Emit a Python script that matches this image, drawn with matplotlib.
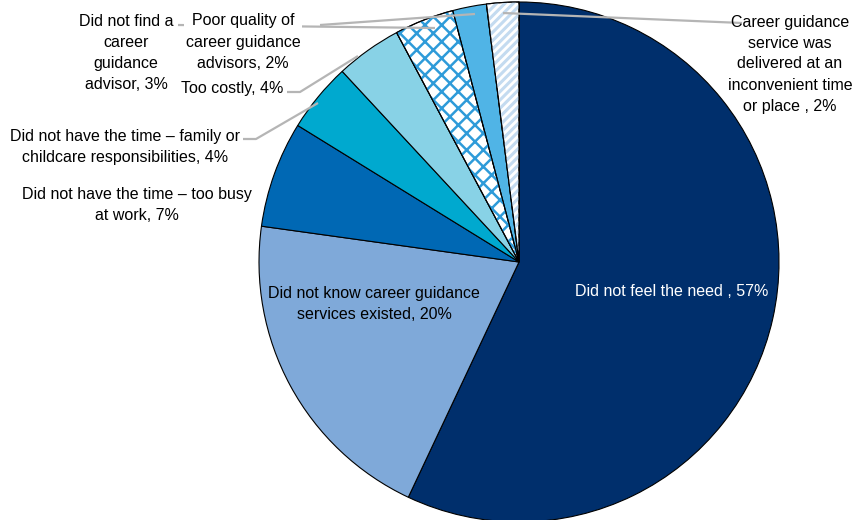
import matplotlib
matplotlib.use('Agg')
import matplotlib.pyplot as plt
from matplotlib.patches import Wedge

plt.rcParams['font.family'] = ['Liberation Sans', 'DejaVu Sans']

# Reasons for not using career guidance (share of respondents)
labels = [
    'Did not feel the need , 57%',
    'Did not know career guidance\nservices existed, 20%',
    'Did not have the time \u2013 too busy\nat work, 7%',
    'Did not have the time \u2013 family or\nchildcare responsibilities, 4%',
    'Too costly, 4%',
    'Did not find a\ncareer\nguidance\nadvisor, 3%',
    'Poor quality of\ncareer guidance\nadvisors, 2%',
    'Career guidance\nservice was\ndelivered at an\ninconvenient time\nor place , 2%',
]
shares = [57.0, 20.2, 6.6, 4.3, 4.1, 3.7, 2.1, 2.0]
colors = ['#002F6C', '#7FA9D9', '#0068B4', '#00A9CF', '#88D2E6', 'white', '#50B4E6', 'white']
hatches = [None, None, None, None, None, 'xx', None, '////']
hatch_colors = [None, None, None, None, None, '#2E9BD9', None, '#C4DBF0']
hatch_widths = [0, 0, 0, 0, 0, 1.8, 0, 2.2]

W, H = 868, 520


def py(y):
    # pixel row (from top) to data y
    return H - y


fig = plt.figure(figsize=(W / 100, H / 100), dpi=100)
ax = fig.add_axes([0, 0, 1, 1])

cx, cy, r = 519, py(262), 260
wedges, _ = ax.pie(shares, colors=colors, startangle=90, counterclock=False,
                   center=(cx, cy), radius=r,
                   wedgeprops=dict(edgecolor='black', linewidth=0.8))

# hatched slices drawn as overlays so the hatch can have its own colour
for w, h, hc, hw in zip(wedges, hatches, hatch_colors, hatch_widths):
    if h is None:
        continue
    plt.rcParams['hatch.linewidth'] = hw
    ov = Wedge((cx, cy), r, w.theta1, w.theta2, facecolor='none',
               edgecolor=hc, linewidth=0, hatch=h, zorder=w.get_zorder() + 0.1)
    ax.add_patch(ov)
    edge = Wedge((cx, cy), r, w.theta1, w.theta2, facecolor='none',
                 edgecolor='black', linewidth=0.8, zorder=w.get_zorder() + 0.2)
    ax.add_patch(edge)

fs = 11.5
ls = 1.5
line_col = '#B5B5B5'

# leader lines (pixel coords from top-left)
leaders = [
    [(178, 25), (435, 28)],
    [(320, 25), (475, 14)],
    [(742, 23), (503, 13)],
    [(287, 92), (300, 92), (358, 56)],
    [(243, 139), (256, 139), (318, 103)],
]
for pts in leaders:
    ax.plot([p[0] for p in pts], [py(p[1]) for p in pts], color=line_col,
            lw=1.6, zorder=5, solid_capstyle='butt')

# label positions (pixel coords from top-left)
ax.text(672, py(292), labels[0], color='white', fontsize=fs, ha='center', va='center', zorder=6)
ax.text(374, py(304), labels[1], color='black', fontsize=fs, ha='center', va='center',
        linespacing=ls, zorder=6)
ax.text(137, py(205), labels[2], fontsize=fs, ha='center', va='center', linespacing=ls, zorder=6)
ax.text(125, py(147), labels[3], fontsize=fs, ha='center', va='center', linespacing=ls, zorder=6)
ax.text(283, py(88), labels[4], fontsize=fs, ha='right', va='center', zorder=6)
ax.text(126, py(53), labels[5], fontsize=fs, ha='center', va='center', linespacing=ls, zorder=6,
        bbox=dict(facecolor='white', edgecolor='none', pad=1))
ax.text(243, py(42), labels[6], fontsize=fs, ha='center', va='center', linespacing=ls, zorder=6,
        bbox=dict(facecolor='white', edgecolor='none', pad=1))
ax.text(790, py(64), labels[7], fontsize=fs, ha='center', va='center', linespacing=ls, zorder=6)

ax.set_xlim(0, W)
ax.set_ylim(0, H)
ax.set_aspect('auto')
ax.axis('off')

fig.savefig('out.png', dpi=100)
